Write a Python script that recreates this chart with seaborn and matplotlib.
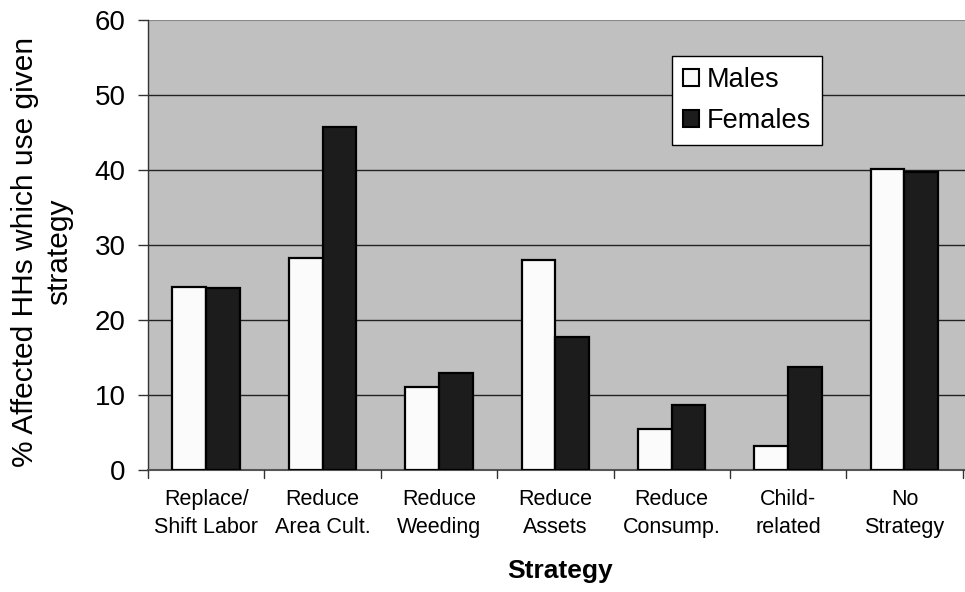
import matplotlib
matplotlib.use("Agg")
import matplotlib.pyplot as plt
import seaborn as sns
import pandas as pd
from matplotlib.patches import Patch

categories = ["Replace/\nShift Labor", "Reduce\nArea Cult.", "Reduce\nWeeding",
              "Reduce\nAssets", "Reduce\nConsump.", "Child-\nrelated", "No\nStrategy"]
males = [24.4, 28.3, 11.1, 28.0, 5.5, 3.2, 40.1]
females = [24.3, 45.7, 12.9, 17.7, 8.7, 13.7, 39.8]
series = ["Males", "Females"]
yticks = [0, 10, 20, 30, 40, 50, 60]

df = pd.DataFrame({
    "Strategy": categories * 2,
    "value": males + females,
    "group": ["Males"] * len(categories) + ["Females"] * len(categories),
})

sns.set_theme(style="white")
plt.rcParams["font.family"] = ["Liberation Sans", "DejaVu Sans"]
for key in ["text.color", "axes.labelcolor", "xtick.labelcolor", "ytick.labelcolor"]:
    plt.rcParams[key] = "black"

W, H = 965, 592
fig = plt.figure(figsize=(W / 100, H / 100), dpi=100)
ax = fig.add_axes([148 / W, 1 - 470 / H, 1 - 148 / W, 450 / H])
ax.set_facecolor("#c0c0c0")

colors = {"Males": "#fbfbfb", "Females": "#1c1c1c"}
sns.barplot(data=df, x="Strategy", y="value", hue="group", hue_order=series,
            palette=colors, width=0.58, edgecolor="black", linewidth=1.6,
            ax=ax, legend=False, zorder=3, saturation=1)

ax.set_ylim(0, 60)
ax.set_xlim(-0.5, 6.52)
ax.set_yticks(yticks)
ax.set_yticklabels([str(t) for t in yticks], fontsize=20)

# horizontal gridlines
for t in yticks[1:-1]:
    ax.axhline(t, color="#222222", lw=1.0, zorder=1)
ax.axhline(60, color="#888888", lw=1.5, zorder=1)

for s in ["top", "right"]:
    ax.spines[s].set_visible(False)
ax.spines["left"].set_color("#333333")
ax.spines["left"].set_linewidth(1.0)
ax.spines["bottom"].set_color("#555555")
ax.spines["bottom"].set_linewidth(1.5)

# category labels, with boundary ticks between categories
ax.set_xticks(range(len(categories)))
ax.set_xticklabels(categories, fontsize=15.5, linespacing=1.4)
ax.tick_params(axis="x", length=0, pad=14)
for b in [i + 0.5 for i in range(-1, len(categories))]:
    ax.plot([b, b], [0, -1.1], color="#333333", lw=1, clip_on=False, zorder=4)
ax.tick_params(axis="y", length=7, width=1, color="#333333", pad=9, left=True,
               direction="out")

ax.set_xlabel("")
ax.set_ylabel("")
fig.text(560 / W, 1 - 571 / H, "Strategy", fontsize=19, fontweight="bold",
         ha="center", va="center")
fig.text(42 / W, 1 - 252 / H, "% Affected HHs which use given\nstrategy", fontsize=21.5,
         rotation=90, ha="center", va="center", multialignment="center",
         linespacing=1.3)

handles = [Patch(facecolor=colors[s], edgecolor="black", linewidth=1.5) for s in series]
leg = fig.legend(handles, series, loc="upper left", bbox_to_anchor=(672 / W, 1 - 56 / H),
                 fontsize=19.5, frameon=True, fancybox=False, handlelength=0.6,
                 handleheight=0.6, handletextpad=0.3, borderpad=0.4,
                 labelspacing=0.55, borderaxespad=0, framealpha=1)
leg.get_frame().set_edgecolor("black")
leg.get_frame().set_linewidth(1.0)
leg.get_frame().set_facecolor("white")

fig.savefig("out.png", dpi=100)
